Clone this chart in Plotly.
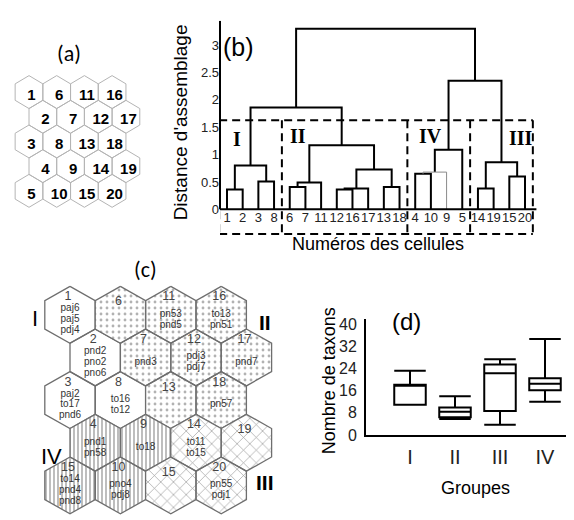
import math
import plotly.graph_objects as go

W, H = 574, 520

# ---------------- data ----------------
cells = list(range(1, 21))
grid_rows = 5

# dendrogram (panel b)
leaf_order = [1, 2, 3, 8, 6, 7, 11, 12, 16, 17, 13, 18, 4, 10, 9, 5, 14, 19, 15, 20]
merge_left = [1, 3, 21, 6, 24, 12, 26, 13, 27, 25, 23, 4, 32, 33, 14, 15, 35, 34, 31]
merge_right = [2, 8, 22, 7, 11, 16, 17, 18, 28, 29, 30, 10, 9, 5, 19, 20, 36, 37, 38]
merge_height = [0.36, 0.51, 0.80, 0.41, 0.49, 0.36, 0.38, 0.41, 0.73, 1.17,
                1.86, 0.65, 0.68, 1.09, 0.38, 0.60, 0.86, 2.35, 3.30]
thin_gray_merge_ids = [33]
cut_height = 1.63
dend_yticks = [0, 0.5, 1, 1.5, 2, 2.5, 3]

group_names = ["I", "II", "IV", "III"]
group_members = [[1, 2, 3, 8], [6, 7, 11, 12, 16, 17, 13, 18], [4, 10, 9, 5], [14, 19, 15, 20]]

# SOM map labels (panel c)
cell_number_text = ["1", "2", "3", "4", "15", "6", "7", "8", "9", "10",
                    "11", "12", "13", "14", "15", "16", "17", "18", "19", "20"]
cell_species = [
    ["paj6", "paj5", "pdj4"], ["pnd2", "pno2", "pno6"], ["paj2", "to17", "pnd6"],
    ["pnd1", "pn58"], ["to14", "pnd4", "pnd8"], [], ["pnd3"], ["to16", "to12"],
    ["to18"], ["pno4", "pdj8"], ["pn53", "pnd5"], ["pdj3", "pdj7"], [],
    ["to11", "to15"], [], ["to13", "pn51"], ["pnd7"], ["pn57"], [], ["pn55", "pdj1"],
]

# box plot (panel d)
box_groups = ["I", "II", "III", "IV"]
box_lower = [10.9, 5.8, 3.7, 12.0]
box_q1 = [10.9, 6.4, 8.7, 16.2]
box_median = [17.8, 8.4, 22.3, 18.5]
box_q3 = [18.2, 9.9, 25.5, 20.5]
box_upper = [23.2, 14.0, 27.4, 34.7]
box_yticks = [0, 8, 16, 24, 32, 40]

# ---------------- layout constants (pixels) ----------------
SANS = "Liberation Sans, Arial, sans-serif"
SERIF = "Liberation Serif, Times New Roman, serif"
CAL = "Carlito, Lato, sans-serif"

A_X0, A_Y0, A_W, A_H = 21.0, 83.0, 27.7, 33.7      # panel a hex grid
C_X0, C_Y0, C_W, C_H = 62.0, 311.0, 50.4, 58.2     # panel c hex grid

B_DOM_L, B_DOM_R = 212, 530
B_LEAF_FIRST, B_LEAF_LAST = 219, 517
B_ZERO, B_UNIT, B_TOP, B_BOTTOM = 203, 56.0, 10, 248

D_DOM_L, D_DOM_R = 358, 573
D_FIRST, D_STEP = 402, 45.0
D_ZERO, D_UNIT, D_TOP = 434, 2.83, 315


def fx(px):
    return px / W


def fy(py):
    return 1 - py / H


def hex_center(cell, x0, y0, w, h):
    col = (cell - 1) // grid_rows
    row = (cell - 1) % grid_rows
    cx = x0 + col * w + (w / 2 if row % 2 == 1 else 0)
    cy = y0 + row * 0.75 * h
    return cx, cy


def hex_path(cx, cy, w, h):
    xs = [cx, cx + w / 2, cx + w / 2, cx, cx - w / 2, cx - w / 2, cx]
    ys = [cy - h / 2, cy - h / 4, cy + h / 4, cy + h / 2, cy + h / 4, cy - h / 4, cy - h / 2]
    return xs, ys


fig = go.Figure()

# ---------------- panel (a) ----------------
ax, ay, tx, ty, tt = [], [], [], [], []
for c in cells:
    cx, cy = hex_center(c, A_X0, A_Y0, A_W, A_H)
    xs, ys = hex_path(cx, cy, A_W, A_H)
    ax += xs + [None]
    ay += ys + [None]
    tx.append(cx + 2.5)
    ty.append(cy + 4)
    tt.append(str(c))
fig.add_trace(go.Scatter(x=ax, y=ay, mode="lines", line=dict(color="#b4b4b4", width=1),
                         xaxis="x", yaxis="y", hoverinfo="skip", showlegend=False))
fig.add_trace(go.Scatter(x=tx, y=ty, mode="text", text=tt,
                         textfont=dict(family=SANS, size=15, color="black", weight="bold"),
                         xaxis="x", yaxis="y", hoverinfo="skip", showlegend=False))

# ---------------- panel (c) ----------------
group_style = {
    "I": dict(fill="white", pattern=None),
    "II": dict(fill="white", pattern=dict(shape=".", fgcolor="#666666", bgcolor="white", size=6, solidity=0.18)),
    "IV": dict(fill="white", pattern=dict(shape="|", fgcolor="#222222", bgcolor="white", size=4, solidity=0.3)),
    "III": dict(fill="white", pattern=dict(shape="x", fgcolor="#333333", bgcolor="white", size=9, solidity=0.14)),
}
for gname, members in zip(group_names, group_members):
    gx, gy = [], []
    for c in members:
        cx, cy = hex_center(c, C_X0, C_Y0, C_W, C_H)
        xs, ys = hex_path(cx, cy, C_W, C_H)
        gx += xs + [None]
        gy += ys + [None]
    st = group_style[gname]
    kw = dict(x=gx, y=gy, mode="lines", fill="toself", fillcolor=st["fill"],
              line=dict(color="#6e6e6e", width=1.3), xaxis="x", yaxis="y",
              hoverinfo="skip", showlegend=False)
    if st["pattern"] is not None:
        kw["fillpattern"] = st["pattern"]
    fig.add_trace(go.Scatter(**kw))

nx, ny, nt, sx, sy, stx = [], [], [], [], [], []
for c in cells:
    cx, cy = hex_center(c, C_X0, C_Y0, C_W, C_H)
    sp = cell_species[c - 1]
    nx.append(cx - 2)
    ny.append(cy - (18 if sp else 13))
    nt.append(cell_number_text[c - 1])
    n = len(sp)
    for i, s in enumerate(sp):
        sx.append(cx)
        sy.append(cy + 5 + (i - (n - 1) / 2) * 11)
        stx.append(s)
fig.add_trace(go.Scatter(x=nx, y=ny, mode="text", text=nt,
                         textfont=dict(family=SANS, size=12.5, color="#444444"),
                         xaxis="x", yaxis="y", hoverinfo="skip", showlegend=False))
fig.add_trace(go.Scatter(x=sx, y=sy, mode="text", text=stx,
                         textfont=dict(family=SANS, size=10, color="#333333"),
                         xaxis="x", yaxis="y", hoverinfo="skip", showlegend=False))

# ---------------- panel (b): dendrogram ----------------
pos = {leaf: i + 1 for i, leaf in enumerate(leaf_order)}
hgt = {leaf: 0.0 for leaf in leaf_order}
bx, by, gx2, gy2 = [], [], [], []
for k, (l, r, h) in enumerate(zip(merge_left, merge_right, merge_height)):
    nid = 21 + k
    seg_x = [pos[l], pos[l], pos[r], pos[r], None]
    seg_y = [hgt[l], h, h, hgt[r], None]
    if nid in thin_gray_merge_ids:
        gx2 += seg_x
        gy2 += seg_y
    else:
        bx += seg_x
        by += seg_y
    pos[nid] = (pos[l] + pos[r]) / 2
    hgt[nid] = h
fig.add_trace(go.Scatter(x=bx, y=by, mode="lines", line=dict(color="black", width=2),
                         xaxis="x2", yaxis="y2", hoverinfo="skip", showlegend=False))
fig.add_trace(go.Scatter(x=gx2, y=gy2, mode="lines", line=dict(color="#8a8a8a", width=1),
                         xaxis="x2", yaxis="y2", hoverinfo="skip", showlegend=False))
fig.add_trace(go.Scatter(x=[pos[l] for l in leaf_order], y=[-0.17] * len(leaf_order),
                         mode="text", text=[str(l) for l in leaf_order],
                         textfont=dict(family=SANS, size=13, color="#222222"),
                         xaxis="x2", yaxis="y2", hoverinfo="skip", showlegend=False))

b_scale = (B_LEAF_LAST - B_LEAF_FIRST) / (len(leaf_order) - 1)
b_xrange = [1 - (B_LEAF_FIRST - B_DOM_L) / b_scale, len(leaf_order) + (B_DOM_R - B_LEAF_LAST) / b_scale]
b_yrange = [-(B_BOTTOM - B_ZERO) / B_UNIT, (B_ZERO - B_TOP) / B_UNIT]

shapes = []
# axis lines
shapes.append(dict(type="line", xref="x2 domain", yref="y2", x0=0, x1=0, y0=0, y1=b_yrange[1],
                   line=dict(color="black", width=2)))
shapes.append(dict(type="line", xref="x2 domain", yref="y2", x0=0, x1=0.995, y0=0, y1=0,
                   line=dict(color="black", width=2)))
# dashed group boxes
bottom_dash = -0.45
edges = []
for members in group_members:
    p = [pos[m] for m in members]
    edges.append(min(p) - 0.5)
    edges.append(max(p) + 0.5)
edges = sorted(set(edges))
dash = dict(color="black", width=2, dash="8px,5px")
shapes.append(dict(type="line", xref="x2", yref="y2", x0=edges[0], x1=edges[-1],
                   y0=cut_height, y1=cut_height, line=dash))
shapes.append(dict(type="line", xref="x2", yref="y2", x0=edges[0], x1=edges[-1],
                   y0=bottom_dash, y1=bottom_dash, line=dash))
for e in edges:
    shapes.append(dict(type="line", xref="x2", yref="y2", x0=e, x1=e,
                       y0=cut_height, y1=bottom_dash, line=dash))

# ---------------- panel (d): box plot ----------------
box_x = list(range(1, len(box_groups) + 1))
fig.add_trace(go.Box(x=box_x, q1=box_q1, median=box_median, q3=box_q3,
                     lowerfence=box_lower, upperfence=box_upper, orientation="v",
                     width=0.7, whiskerwidth=1, fillcolor="rgba(0,0,0,0)",
                     line=dict(color="black", width=2), boxpoints=False,
                     xaxis="x3", yaxis="y3", hoverinfo="skip", showlegend=False))
d_xrange = [1 - (D_FIRST - D_DOM_L) / D_STEP, len(box_groups) + (D_DOM_R - (D_FIRST + 3 * D_STEP)) / D_STEP]
d_yrange = [0, (D_ZERO - D_TOP) / D_UNIT]

# ---------------- annotations ----------------
ann = []


def label(text, px, py, size, family=SANS, color="black", angle=0, bold=False):
    ann.append(dict(text=("<b>%s</b>" % text) if bold else text, x=fx(px), y=fy(py),
                    xref="paper", yref="paper", showarrow=False, textangle=angle,
                    xanchor="center", yanchor="middle",
                    font=dict(family=family, size=size, color=color)))


label("(a)", 61, 43, 22, family=CAL)
label("(b)", 230, 37, 25)
label("(c)", 137, 265, 22, family=CAL)
label("(d)", 398, 318, 24)
label("Distance d'assemblage", 172, 114, 19, angle=-90)
label("Numéros des cellules", 370, 238, 18)
label("Nombre de taxons", 321, 379, 18, angle=-90)
label("Groupes", 467, 488, 18)
# group labels on dendrogram
for g, (px, py) in zip(["I", "II", "IV", "III"], [(228.5, 131), (290, 128), (422, 128), (513, 130)]):
    label(g, px, py, 20, family=SERIF, bold=True)
# group labels on map
label("I", 27, 315, 22)
label("<b>II</b>", 257, 319, 21)
label("IV", 43, 456, 22)
label("<b>III</b>", 257, 483, 21)

fig.update_layout(
    width=W, height=H, autosize=False,
    margin=dict(l=0, r=0, t=0, b=0, pad=0),
    paper_bgcolor="white", plot_bgcolor="rgba(0,0,0,0)",
    showlegend=False,
    xaxis=dict(domain=[0, 1], range=[0, W], visible=False, fixedrange=True),
    yaxis=dict(domain=[0, 1], range=[H, 0], visible=False, fixedrange=True),
    xaxis2=dict(domain=[fx(B_DOM_L), fx(B_DOM_R)], range=b_xrange, anchor="y2",
                showline=False, showgrid=False, zeroline=False, showticklabels=False, ticks=""),
    yaxis2=dict(domain=[fy(B_BOTTOM), fy(B_TOP)], range=b_yrange, anchor="x2",
                showline=False, showgrid=False, zeroline=False, ticks="",
                tickvals=dend_yticks, ticktext=[("%g" % v) for v in dend_yticks],
                tickfont=dict(family=SANS, size=13, color="#222222"), ticklabelstandoff=0),
    xaxis3=dict(domain=[fx(D_DOM_L), fx(D_DOM_R)], range=d_xrange, anchor="y3",
                showline=True, linecolor="black", linewidth=2, showgrid=False, zeroline=False,
                ticks="", tickvals=box_x, ticktext=box_groups, ticklabelstandoff=3,
                tickfont=dict(family=SANS, size=20, color="#222222")),
    yaxis3=dict(domain=[fy(D_ZERO), fy(D_TOP)], range=d_yrange, anchor="x3",
                showline=True, linecolor="black", linewidth=2, showgrid=False, zeroline=False,
                ticks="", tickvals=box_yticks, ticklabelstandoff=4,
                tickfont=dict(family=SANS, size=16, color="#222222")),
    shapes=shapes,
    annotations=ann,
)

fig.write_html("out.html")
